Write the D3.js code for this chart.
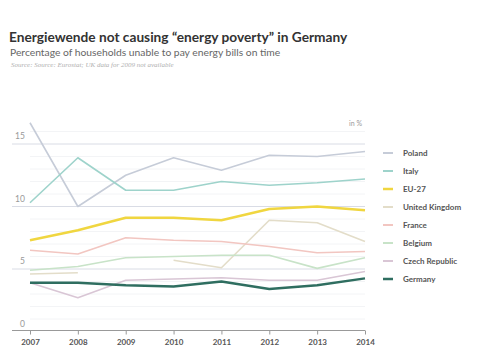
<!DOCTYPE html>
<html><head><meta charset="utf-8">
<script src="https://cdn.jsdelivr.net/npm/d3@7"></script>
<style>
body{margin:0;background:#fff;}
svg{display:block;}
</style></head>
<body><svg id="c" width="500" height="358"></svg>
<script>
const years = [2007, 2008, 2009, 2010, 2011, 2012, 2013, 2014];
const poland  = [16.7, 10.0, 12.5, 13.9, 12.9, 14.1, 14.0, 14.4];
const italy   = [10.3, 13.9, 11.3, 11.3, 12.0, 11.7, 11.9, 12.2];
const eu27    = [7.3, 8.1, 9.1, 9.1, 8.9, 9.8, 10.0, 9.7];
const uk      = [4.6, 4.7, null, 5.7, 5.1, 8.9, 8.7, 7.2];
const france  = [6.5, 6.2, 7.5, 7.3, 7.2, 6.8, 6.3, 6.4];
const belgium = [4.9, 5.2, 5.9, 6.0, 6.1, 6.1, 5.05, 5.9];
const czech   = [3.9, 2.7, 4.1, 4.2, 4.3, 4.1, 4.1, 4.8];
const germany = [3.9, 3.9, 3.7, 3.6, 4.0, 3.4, 3.7, 4.25];
const yTicks = [0, 5, 10, 15];
const seriesNames = ["Poland","Italy","EU-27","United Kingdom","France","Belgium","Czech Republic","Germany"];
const seriesValues = [poland, italy, eu27, uk, france, belgium, czech, germany];
const colors = ["#c6ccd8","#9ed3cb","#f0d640","#e3ddc9","#f2c6c1","#c8e3c8","#d9c6d5","#2f6e60"];
const widths = [1.6,1.6,2.5,1.6,1.6,1.6,1.6,2.5];

const svg = d3.select("#c");
const x = d3.scalePoint().domain(years).range([30, 365]);
const y = d3.scaleLinear().domain([0, 15]).range([331.5, 144]);

// title
svg.append("text").attr("x",9).attr("y",42).attr("font-family","Lato").attr("font-weight","bold")
  .attr("font-size",13.7).attr("fill","#333").text("Energiewende not causing \u201cenergy poverty\u201d in Germany");
svg.append("text").attr("x",10).attr("y",56).attr("font-family","Lato")
  .attr("font-size",10.3).attr("fill","#666").text("Percentage of households unable to pay energy bills on time");
svg.append("text").attr("x",11).attr("y",67).attr("font-family","Liberation Serif").attr("font-style","italic")
  .attr("font-size",7).attr("fill","#b0b0b0").text("Source: Source: Eurostat; UK data for 2009 not available");

// minor grid
const minor = d3.range(0, 17).filter(v => v % 5 !== 0);
svg.append("g").selectAll("line").data(minor).join("line")
  .attr("x1",30).attr("x2",365).attr("y1",d=>y(d)).attr("y2",d=>y(d))
  .attr("stroke","#f3f4f6").attr("stroke-width",1);
// major grid
svg.append("g").selectAll("line").data(yTicks.filter(d=>d>0)).join("line")
  .attr("x1",12).attr("x2",365).attr("y1",d=>y(d)).attr("y2",d=>y(d))
  .attr("stroke","#d9dce5").attr("stroke-width",1);
svg.append("g").selectAll("text").data(yTicks).join("text")
  .attr("x",d=> d>=10 ? 15 : 20).attr("y",d=>y(d)-5).attr("font-family","Lato")
  .attr("font-size",8.5).attr("fill","#999").text(d=>d);
svg.append("text").attr("x",362).attr("y",126).attr("text-anchor","end").attr("font-family","Lato")
  .attr("font-size",7).attr("fill","#999").text("in %");

// x axis
const xAxis = d3.axisBottom(x).tickSize(4).tickSizeOuter(0);
const gx = svg.append("g").attr("transform","translate(0,330.5)").call(xAxis);
gx.select(".domain").attr("d","M12,0H365").attr("stroke","#999");
gx.selectAll(".tick line").attr("stroke","#999");
gx.selectAll(".tick text").attr("font-family","Lato").attr("font-weight","bold")
  .attr("font-size",8).attr("fill","#555").attr("dy","0.9em");

// lines
const line = d3.line().defined(d=>d[1]!==null).x(d=>x(d[0])).y(d=>y(d[1]));
const order = [0,1,3,4,5,6,2,7];
order.forEach(i=>{
  svg.append("path").datum(years.map((yr,j)=>[yr, seriesValues[i][j]]))
    .attr("d", line).attr("fill","none").attr("stroke",colors[i])
    .attr("stroke-width",widths[i]).attr("stroke-linejoin","round");
});

// legend
const lg = svg.append("g");
seriesNames.forEach((n,i)=>{
  const yy = 153 + i*18;
  lg.append("line").attr("x1",383).attr("x2",393).attr("y1",yy).attr("y2",yy)
    .attr("stroke",colors[i]).attr("stroke-width", widths[i]>2 ? 2.5 : 2);
  lg.append("text").attr("x",403).attr("y",yy+3).attr("font-family","Lato").attr("font-weight","bold")
    .attr("font-size",8).attr("fill","#555").text(n);
});
</script></body></html>
